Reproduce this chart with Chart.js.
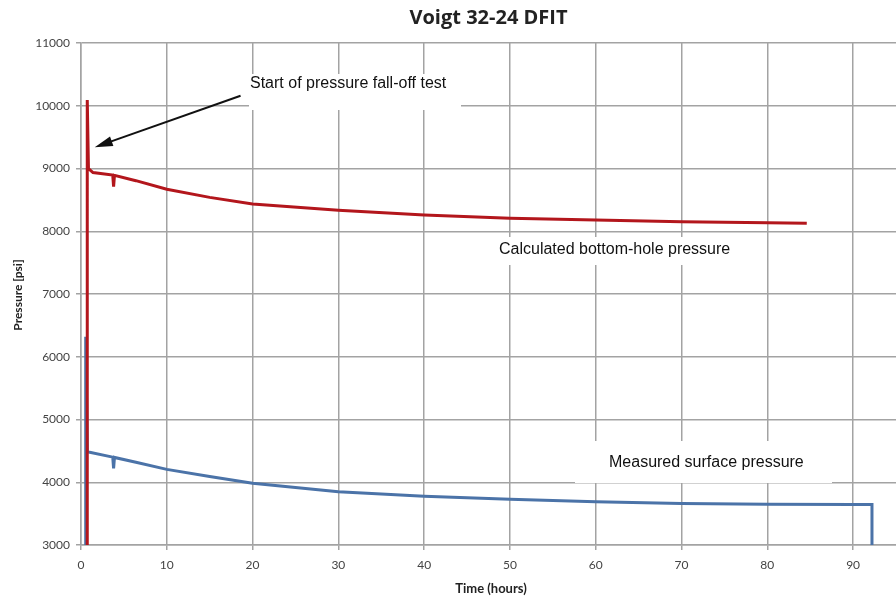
<!DOCTYPE html>
<html>
<head>
<meta charset="utf-8">
<style>
  body { margin: 0; background: #fff; }
  #wrap { width: 896px; height: 600px; }
</style>
</head>
<body>
<div id="wrap"><canvas id="dfitChart" width="896" height="600"></canvas></div>

<script src="https://cdn.jsdelivr.net/npm/chart.js"></script>

<script>
    // Values (hours, psi)
    const bottomHoleHours = [0.73, 0.73, 0.87, 1.4, 3.7, 3.8, 3.9, 6.4, 10, 15, 20, 30, 40, 50, 60, 70, 80, 84.6];
    const bottomHolePsi   = [3000, 10090, 9000, 8935, 8895, 8710, 8890, 8806, 8670, 8540, 8435, 8335, 8260, 8207, 8180, 8153, 8137, 8126];

    const surfaceHours = [0.55, 0.55, 0.73, 3.7, 3.8, 3.9, 6.4, 10, 15, 20, 30, 40, 50, 60, 70, 80, 90, 92.2, 92.2];
    const surfacePsi   = [3000, 6320, 4485, 4400, 4220, 4395, 4318, 4205, 4090, 3983, 3850, 3775, 3728, 3690, 3662, 3648, 3645, 3645, 3000];

    const pressureTicks = [3000, 4000, 5000, 6000, 7000, 8000, 9000, 10000, 11000];
    const hourTicks = [0, 10, 20, 30, 40, 50, 60, 70, 80, 90];

    const toPoints = (xs, ys) => xs.map((x, i) => ({ x: x, y: ys[i] }));

    const gridGray = '#a3a3a3';

    // texts, label boxes and the arrow
    const notes = {
        id: 'notes',
        beforeDatasetsDraw(chart) {
            const { ctx } = chart;
            ctx.save();
            ctx.fillStyle = '#fff';
            ctx.fillRect(249, 74, 212, 36);
            ctx.fillRect(490, 237, 256, 28);
            ctx.fillRect(575, 441, 257, 42);
            ctx.restore();
        },
        afterDatasetsDraw(chart) {
            const { ctx, chartArea, scales } = chart;
            ctx.save();
            ctx.fillStyle = '#111';
            ctx.textBaseline = 'middle';
            ctx.textAlign = 'left';
            ctx.font = '16px "Liberation Sans", Arial, sans-serif';
            ctx.fillText('Start of pressure fall-off test', 250, 84);
            ctx.fillText('Calculated bottom-hole pressure', 499, 250);
            ctx.fillText('Measured surface pressure', 609, 463);

            // arrow pointing at the start of the fall-off
            const x1 = scales.x.getPixelForValue(18.6), y1 = scales.y.getPixelForValue(10160);
            const x2 = scales.x.getPixelForValue(1.6), y2 = scales.y.getPixelForValue(9340);
            const ang = Math.atan2(y2 - y1, x2 - x1);
            ctx.strokeStyle = '#111';
            ctx.lineWidth = 2;
            ctx.beginPath();
            ctx.moveTo(x1, y1);
            ctx.lineTo(x2 - 10 * Math.cos(ang), y2 - 10 * Math.sin(ang));
            ctx.stroke();
            ctx.beginPath();
            ctx.moveTo(x2, y2);
            ctx.lineTo(x2 - 18 * Math.cos(ang) + 5 * Math.sin(ang), y2 - 18 * Math.sin(ang) - 5 * Math.cos(ang));
            ctx.lineTo(x2 - 18 * Math.cos(ang) - 5 * Math.sin(ang), y2 - 18 * Math.sin(ang) + 5 * Math.cos(ang));
            ctx.closePath();
            ctx.fillStyle = '#111';
            ctx.fill();

            // title and axis titles
            const cx = (chartArea.left + chartArea.right) / 2;
            ctx.textAlign = 'center';
            ctx.fillStyle = '#222';
            ctx.font = 'bold 20px "Open Sans", sans-serif';
            ctx.fillText('Voigt 32-24 DFIT', cx, 18);
            ctx.font = 'bold 13px Lato, sans-serif';
            ctx.fillText('Time (hours)', 491, 589);
            ctx.translate(18, 295);
            ctx.rotate(-Math.PI / 2);
            ctx.font = 'bold 12px Lato, sans-serif';
            ctx.fillText('Pressure [psi]', 0, 0);
            ctx.restore();
        }
    };

    const ctx = document.getElementById('dfitChart').getContext('2d');
    const dfitChart = new Chart(ctx, {
        type: 'scatter',
        data: {
            datasets: [{
                label: 'Calculated bottom-hole pressure',
                data: toPoints(bottomHoleHours, bottomHolePsi),
                showLine: true,
                borderColor: '#b3161c',
                borderWidth: 3,
                pointRadius: 0,
                tension: 0
            }, {
                label: 'Measured surface pressure',
                data: toPoints(surfaceHours, surfacePsi),
                showLine: true,
                borderColor: '#4b73a8',
                borderWidth: 3,
                pointRadius: 0,
                tension: 0
            }]
        },
        options: {
            responsive: false,
            animation: false,
            layout: { padding: { top: 43, left: 0, right: 0, bottom: 0 } },
            plugins: {
                legend: { display: false },
                tooltip: { enabled: false }
            },
            scales: {
                x: {
                    type: 'linear',
                    min: 0,
                    max: 95,
                    afterBuildTicks: (scale) => { scale.ticks = hourTicks.map(v => ({ value: v })); },
                    afterFit: (scale) => { scale.height = 55; },
                    grid: { color: gridGray, lineWidth: 1.5, tickLength: 5, tickColor: gridGray },
                    border: { color: gridGray, width: 1.5 },
                    ticks: { color: '#444', font: { family: 'Lato', size: 12 }, padding: 8, maxRotation: 0,
                             callback: (v) => String(v) }
                },
                y: {
                    type: 'linear',
                    min: 3000,
                    max: 11000,
                    afterBuildTicks: (scale) => { scale.ticks = pressureTicks.map(v => ({ value: v })); },
                    afterFit: (scale) => { scale.width = 81; },
                    grid: { color: gridGray, lineWidth: 1.5, tickLength: 5, tickColor: gridGray },
                    border: { color: gridGray, width: 1.5 },
                    ticks: { color: '#444', font: { family: 'Lato', size: 12 }, padding: 6,
                             callback: (v) => String(v) }
                }
            }
        },
        plugins: [notes]
    });
</script>
</body>
</html>
